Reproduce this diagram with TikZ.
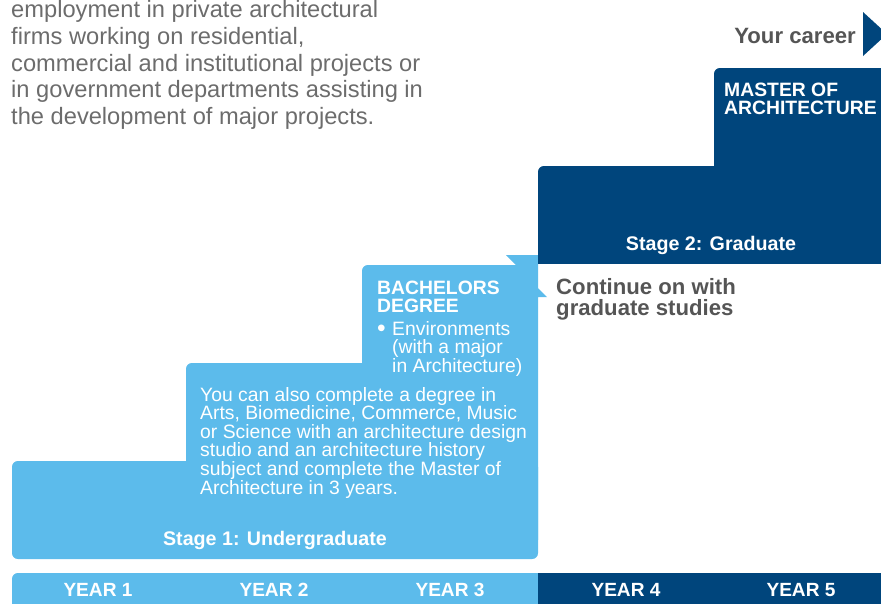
\documentclass[tikz,border=0pt]{standalone}
\usepackage{fontspec}
\setmainfont{Liberation Sans}

\definecolor{uomlight}{RGB}{92,187,235}
\definecolor{uomdark}{RGB}{0,69,124}
\definecolor{bodygray}{RGB}{108,108,108}
\definecolor{headgray}{RGB}{85,85,85}

\tikzset{
  lightstep/.style={fill=uomlight},
  darkstep/.style={fill=uomdark},
  introtext/.style={text=bodygray, inner sep=0pt, align=left,
    font=\fontsize{20.2}{22.8}\selectfont},
  stepheading/.style={text=white, inner sep=0pt, align=left,
    font=\fontsize{16.5}{15.4}\selectfont\bfseries},
  steptext/.style={text=white, inner sep=0pt, align=left,
    font=\fontsize{16.5}{15.8}\selectfont},
  stagelabel/.style={text=white, inner sep=0pt,
    font=\fontsize{16.8}{18}\selectfont\bfseries},
  graylabel/.style={text=headgray, inner sep=0pt, align=left,
    font=\fontsize{18.9}{18}\selectfont\bfseries},
  yearlabel/.style={text=white, inner sep=0pt,
    font=\fontsize{16.3}{18}\selectfont\bfseries}
}

\begin{document}
\begin{tikzpicture}[x=0.03cm, y=-0.03cm]
    \useasboundingbox (0,0) rectangle (881,603);

    % stage 1: light blue staircase
    \fill[lightstep, rounded corners=5pt] (12,461) rectangle (538,559);
    \fill[lightstep, rounded corners=5pt] (186,363) rectangle (500,480);
    \fill[lightstep, rounded corners=5pt] (362,265) rectangle (480,400);
    \fill[lightstep] (450,265) -- (516,265) -- (506,255) -- (538,255) -- (538,288)
        -- (547,297) -- (538,297) -- (538,540) -- (450,540) -- cycle;

    % stage 2: dark blue steps
    \fill[darkstep, rounded corners=5pt] (538,166) rectangle (900,230);
    \fill[darkstep] (538,200) rectangle (900,264);
    \fill[darkstep, rounded corners=5pt] (714,68) rectangle (900,200);
    \fill[darkstep] (863,12) -- (887,34) -- (863,56) -- cycle;

    % year bar
    \fill[lightstep, rounded corners=5pt] (12,573) rectangle (600,620);
    \fill[darkstep] (538,573) rectangle (900,620);

    \node[introtext, anchor=north west] (intro) at (11,0.2)
        {employment in private architectural\\
         firms working on residential,\\
         commercial and institutional projects or\\
         in government departments assisting in\\
         the development of major projects.};

    \node[graylabel, anchor=base east] (career) at (856,43) {Your career};

    \node[stepheading, anchor=north west] (master) at (724,83.2)
        {MASTER OF\\ARCHITECTURE};
    \node[stagelabel, anchor=base] (stage2) at (711,250) {Stage 2: Graduate};

    \node[graylabel, anchor=north west] (continue) at (556,278)
        {Continue on with\\graduate studies};

    \node[stepheading, anchor=north west] (bachelors) at (377,281.2)
        {BACHELORS\\DEGREE};
    \node[steptext, anchor=base west, font=\fontsize{21}{18}\selectfont]
        (bullet) at (377,336) {\textbullet};
    \node[steptext, anchor=north west] (majors) at (392,321.2)
        {Environments\\(with a major\\in Architecture)};

    \node[steptext, anchor=north west] (other) at (200,387.2)
        {You can also complete a degree in\\
         Arts, Biomedicine, Commerce, Music\\
         or Science with an architecture design\\
         studio and an architecture history\\
         subject and complete the Master of\\
         Architecture in 3 years.};
    \node[stagelabel, anchor=base] (stage1) at (275,545) {Stage 1: Undergraduate};

    \foreach \x/\n in {98/1, 274/2, 450/3, 626/4, 801/5}
        \node[yearlabel, anchor=base] (year\n) at (\x,596) {YEAR \n};
\end{tikzpicture}
\end{document}
